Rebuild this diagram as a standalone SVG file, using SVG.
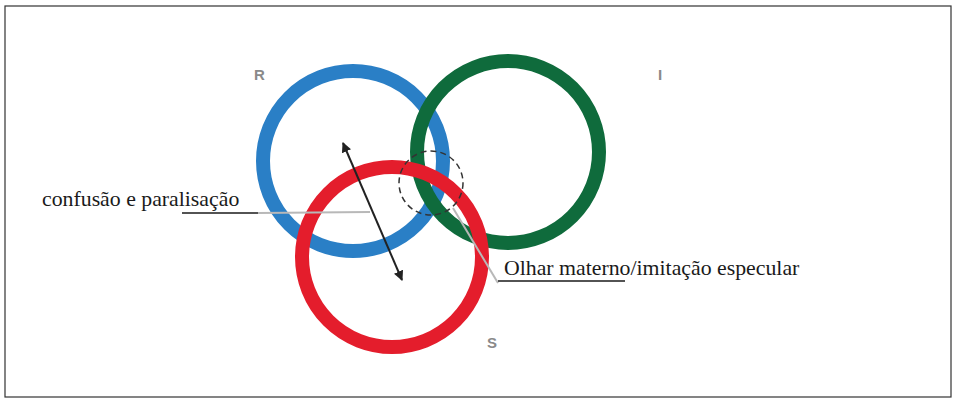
<svg xmlns="http://www.w3.org/2000/svg" width="955" height="400" viewBox="0 0 955 400">
<style>
.ring{fill:none;stroke-width:14}
.lbl{font-family:"Liberation Sans",Arial,sans-serif;font-size:15px;font-weight:bold;fill:#8a8a8a}
.txt{font-family:"Liberation Serif","Times New Roman",serif;font-size:21.8px;fill:#1a1a1a}
.lead{stroke:#b8b8b8;stroke-width:2;fill:none}
.ul{stroke:#1a1a1a;stroke-width:1.3;fill:none}
</style>
<defs>
<marker id="ah" viewBox="0 0 10 10" refX="9" refY="5" markerWidth="5" markerHeight="5" orient="auto-start-reverse">
<path d="M0,0 L10,5 L0,10 z" fill="#222"/>
</marker>
</defs>
<rect x="5" y="6" width="946" height="391" fill="#fff" stroke="#333" stroke-width="1.2"/>
<g id="ring-R"><circle class="ring" cx="353" cy="161" r="90" stroke="#2a7fc6"/><text class="lbl" x="254" y="80">R</text></g>
<g id="ring-I"><circle class="ring" cx="508" cy="152" r="91" stroke="#0f6b3c"/><text class="lbl" x="658" y="80">I</text></g>
<g id="ring-S"><circle class="ring" cx="392" cy="257" r="90" stroke="#e41d2c"/><text class="lbl" x="487" y="348">S</text></g>
<g id="focus"><circle cx="431" cy="183" r="32" fill="none" stroke="#333" stroke-width="1.5" stroke-dasharray="6,4"/></g>
<g id="connectors">
<line x1="343" y1="143" x2="402" y2="280" stroke="#222" stroke-width="2" marker-start="url(#ah)" marker-end="url(#ah)"/>
<line class="lead" x1="258" y1="213" x2="370" y2="212"/>
<line class="lead" x1="453" y1="208" x2="498" y2="283"/>
<line class="ul" x1="182" y1="213" x2="258" y2="213"/>
<line class="ul" x1="498" y1="281" x2="625" y2="281"/>
</g>
<g id="label-confusao"><text class="txt" x="42" y="206">confusão e paralisação</text></g>
<g id="label-olhar"><text class="txt" x="504" y="275">Olhar materno/imitação especular</text></g>
</svg>
